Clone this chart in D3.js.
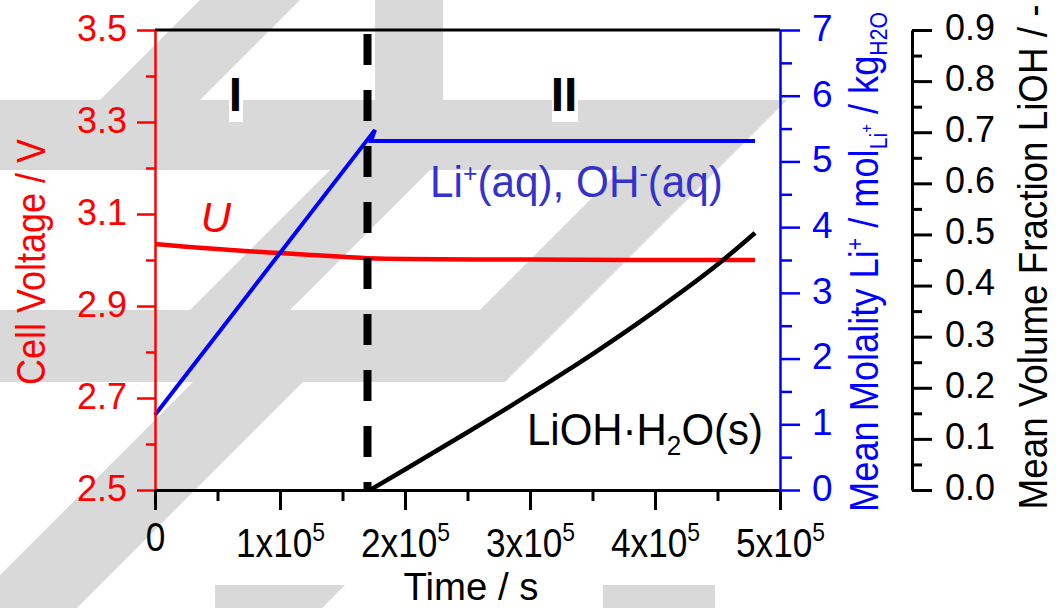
<!DOCTYPE html>
<html>
<head>
<meta charset="utf-8">
<script src="https://cdn.jsdelivr.net/npm/d3@7"></script>
<style>
body { margin: 0; background: #fff; }
svg text { font-family: "Liberation Sans", Arial, sans-serif; }
</style>
</head>
<body>
<svg id="chart" width="1056" height="608"></svg>
<script>
// ---- data ----
var timeTicks      = [0, 1e5, 2e5, 3e5, 4e5, 5e5]
var timeMinor      = [0.5e5, 1.5e5, 2.5e5, 3.5e5, 4.5e5]
var voltageTicks   = [2.5, 2.7, 2.9, 3.1, 3.3, 3.5]
var voltageMinor   = [2.6, 2.8, 3.0, 3.2, 3.4]
var molalityTicks  = [0, 1, 2, 3, 4, 5, 6, 7]
var molalityMinor  = [0.5, 1.5, 2.5, 3.5, 4.5, 5.5, 6.5]
var fractionTicks  = [0, 0.1, 0.2, 0.3, 0.4, 0.5, 0.6, 0.7, 0.8, 0.9]
var fractionMinor  = [0.05, 0.15, 0.25, 0.35, 0.45, 0.55, 0.65, 0.75, 0.85]

// cell voltage U
var voltageTime = [0, 0.25e5, 0.5e5, 0.75e5, 1e5, 1.25e5, 1.5e5, 1.7e5, 2e5, 3e5, 4e5, 4.8e5]
var voltage     = [3.035, 3.029, 3.024, 3.019, 3.015, 3.011, 3.007, 3.004, 3.002, 3.001, 3.000, 3.000]

// mean molality Li+
var molalityTime = [0, 1.76e5, 1.728e5, 4.8e5]
var molality     = [1.14, 5.48, 5.31, 5.31]

// mean volume fraction LiOH.H2O(s)
var lihTime     = [1.72e5, 2.0e5, 2.5e5, 3.0e5, 3.5e5, 4.0e5, 4.5e5, 4.8e5]
var lihFraction = [0, 0.040, 0.113, 0.188, 0.266, 0.350, 0.441, 0.503]

var transitionTime = 1.7e5

// ---- layout ----
var plotLeft = 155, plotRight = 780, plotTop = 30, plotBottom = 490
var fracAxisX = 912
var gray = "#d9d9d9"
var blue = "#0000ff"

var svg = d3.select("#chart")

var x  = d3.scaleLinear().domain([0, 5e5]).range([plotLeft, plotRight])
var yV = d3.scaleLinear().domain([2.5, 3.5]).range([plotBottom, plotTop])
var yM = d3.scaleLinear().domain([0, 7]).range([plotBottom, plotTop])
var yF = d3.scaleLinear().domain([0, 0.9]).range([plotBottom, plotTop])

// background watermark
var watermark = [
    [[200,0],[300,0],[200,100],[100,100]],
    [[375,0],[443,0],[443,100],[375,100]],
    [[0,100],[787,100],[505,382],[0,382],[0,310],[480,310],[620,170],[0,170]],
    [[330,170],[430,170],[290,310],[190,310]],
    [[193,382],[303,382],[77,608],[-33,608]],
    [[215,585],[345,585],[322,608],[215,608]],
    [[603,585],[715,585],[715,608],[603,608]]
]
svg.append("g").selectAll("polygon")
    .data(watermark)
    .enter()
        .append("polygon")
        .attr("points", function(d){return d.map(function(p){return p.join(",")}).join(" ")})
        .attr("fill", gray)

// white boxes behind region labels
svg.append("rect").attr("x", 229).attr("y", 70).attr("width", 14).attr("height", 52).attr("fill", "#fff")
svg.append("rect").attr("x", 552).attr("y", 73).attr("width", 26).attr("height", 49).attr("fill", "#fff")

function fitWidth(sel, w)
{
    var len = sel.node().getComputedTextLength()
    var t = sel.attr("transform") || ""
    sel.attr("transform", t + " scale(" + (w / len) + ",1)")
}

// ---- series ----
svg.append("path")
    .attr("d", d3.line()
        .x(function(d, i){return x(voltageTime[i])})
        .y(function(d, i){return yV(voltage[i])})
        .curve(d3.curveMonotoneX)(voltageTime))
    .attr("fill", "none").attr("stroke", "#ff0000").attr("stroke-width", 4.5)

svg.append("path")
    .attr("d", d3.line()
        .x(function(d, i){return x(molalityTime[i])})
        .y(function(d, i){return yM(molality[i])})(molalityTime))
    .attr("fill", "none").attr("stroke", blue).attr("stroke-width", 4)
    .attr("stroke-linejoin", "miter")

svg.append("path")
    .attr("d", d3.line()
        .x(function(d, i){return x(lihTime[i])})
        .y(function(d, i){return yF(lihFraction[i])})
        .curve(d3.curveMonotoneX)(lihTime))
    .attr("fill", "none").attr("stroke", "#000").attr("stroke-width", 4.5)

// transition line
svg.append("line")
    .attr("x1", x(transitionTime)).attr("x2", x(transitionTime))
    .attr("y1", plotTop + 4).attr("y2", plotBottom)
    .attr("stroke", "#000").attr("stroke-width", 8)
    .attr("stroke-dasharray", "31,25")

// ---- axes ----
function styleAxis(g, color, width, size)
{
    g.attr("font-family", null).attr("font-size", size)
    g.select(".domain").attr("stroke", color).attr("stroke-width", width)
    g.selectAll(".tick line").attr("stroke", color).attr("stroke-width", width)
    g.selectAll(".tick text").attr("fill", color)
}

// top border
svg.append("line").attr("x1", plotLeft).attr("x2", plotRight).attr("y1", plotTop).attr("y2", plotTop)
    .attr("stroke", "#000").attr("stroke-width", 3)

// left voltage axis
var gV = svg.append("g").attr("transform", "translate(" + plotLeft + ",0)")
    .call(d3.axisLeft(yV).tickValues(voltageTicks).tickSize(18).tickSizeOuter(0).tickPadding(10)
        .tickFormat(d3.format(".1f")))
styleAxis(gV, "#ff0000", 2.5, 36)
gV.selectAll(".tick text").attr("dy", "0.28em")
var gVm = svg.append("g").attr("transform", "translate(" + plotLeft + ",0)")
    .call(d3.axisLeft(yV).tickValues(voltageMinor).tickSize(9).tickFormat(""))
styleAxis(gVm, "#ff0000", 2.5, 36)
gVm.select(".domain").remove()

// bottom time axis
var gT = svg.append("g").attr("transform", "translate(0," + plotBottom + ")")
    .call(d3.axisBottom(x).tickValues(timeTicks).tickSize(20).tickSizeOuter(0).tickFormat(""))
styleAxis(gT, "#000", 3, 40)
gT.selectAll(".tick text").remove()
gT.selectAll(".tick").each(function(d)
{
    var t = d3.select(this).append("text")
        .attr("fill", "#000").attr("text-anchor", "middle")
        .attr("transform", "scale(0.88,1)")
    if(d === 0)
    {
        t.attr("y", 61).text("0")
    }
    else
    {
        t.attr("y", 67)
        t.append("tspan").text(d3.format("d")(d / 1e5) + "x10")
        t.append("tspan").attr("font-size", 26).attr("dy", -16).text("5")
    }
})
var gTm = svg.append("g").attr("transform", "translate(0," + plotBottom + ")")
    .call(d3.axisBottom(x).tickValues(timeMinor).tickSize(11).tickFormat(""))
styleAxis(gTm, "#000", 3, 40)
gTm.select(".domain").remove()

// right molality axis
var gM = svg.append("g").attr("transform", "translate(" + plotRight + ",0)")
    .call(d3.axisRight(yM).tickValues(molalityTicks).tickSize(20).tickSizeOuter(0).tickPadding(12)
        .tickFormat(d3.format("d")))
styleAxis(gM, blue, 2.5, 37)
gM.selectAll(".tick text").attr("dy", "0.28em")
var gMm = svg.append("g").attr("transform", "translate(" + plotRight + ",0)")
    .call(d3.axisRight(yM).tickValues(molalityMinor).tickSize(12).tickFormat(""))
styleAxis(gMm, blue, 2.5, 37)
gMm.select(".domain").remove()

// far right fraction axis
var gF = svg.append("g").attr("transform", "translate(" + fracAxisX + ",0)")
    .call(d3.axisRight(yF).tickValues(fractionTicks).tickSize(20).tickSizeOuter(0).tickPadding(13)
        .tickFormat(d3.format(".1f")))
styleAxis(gF, "#000", 3, 36)
gF.selectAll(".tick text").attr("dy", "0.26em")
var gFm = svg.append("g").attr("transform", "translate(" + fracAxisX + ",0)")
    .call(d3.axisRight(yF).tickValues(fractionMinor).tickSize(10).tickFormat(""))
styleAxis(gFm, "#000", 3, 36)
gFm.select(".domain").remove()

// ---- axis titles ----
var tV = svg.append("text")
    .attr("transform", "translate(45,262) rotate(-90)")
    .attr("text-anchor", "middle").attr("font-size", 41).attr("fill", "#ff0000")
    .text("Cell Voltage / V")
fitWidth(tV, 246)

var tM = svg.append("text")
    .attr("transform", "translate(878,262) rotate(-90)")
    .attr("text-anchor", "middle").attr("font-size", 41).attr("fill", blue)
tM.append("tspan").text("Mean Molality Li")
tM.append("tspan").attr("font-size", 24).attr("dy", -15).text("+")
tM.append("tspan").attr("dy", 15).text(" / mol")
tM.append("tspan").attr("font-size", 24).attr("dy", 9).text("Li")
tM.append("tspan").attr("font-size", 17).attr("dy", -15).text("+")
tM.append("tspan").attr("dy", 6).text(" / kg")
tM.append("tspan").attr("font-size", 24).attr("dy", 9).text("H2O")
fitWidth(tM, 500)

var tF = svg.append("text")
    .attr("transform", "translate(1047,257) rotate(-90)")
    .attr("text-anchor", "middle").attr("font-size", 41).attr("fill", "#000")
    .text("Mean Volume Fraction LiOH / -")
fitWidth(tF, 505)

var tT = svg.append("text")
    .attr("transform", "translate(471,600)")
    .attr("text-anchor", "middle").attr("font-size", 39).attr("fill", "#000")
    .text("Time / s")
fitWidth(tT, 135)

// ---- annotations ----
svg.append("text").attr("x", 235.5).attr("y", 111).attr("text-anchor", "middle")
    .attr("font-size", 48).attr("font-weight", "bold").text("I")
svg.append("text").attr("x", 564).attr("y", 111).attr("text-anchor", "middle")
    .attr("font-size", 48).attr("font-weight", "bold").text("II")

svg.append("text").attr("x", 216).attr("y", 232).attr("text-anchor", "middle")
    .attr("font-size", 42).attr("font-style", "italic").attr("fill", "#ff0000").text("U")

var tAq = svg.append("text").attr("transform", "translate(430,197)")
    .attr("font-size", 44).attr("fill", "#3333cc")
tAq.append("tspan").text("Li")
tAq.append("tspan").attr("font-size", 26).attr("dy", -15).text("+")
tAq.append("tspan").attr("dy", 15).text("(aq), OH")
tAq.append("tspan").attr("font-size", 26).attr("dy", -15).text("-")
tAq.append("tspan").attr("dy", 15).text("(aq)")
fitWidth(tAq, 293)

var tS = svg.append("text").attr("transform", "translate(527,445)")
    .attr("font-size", 45).attr("fill", "#000")
tS.append("tspan").text("LiOH\u00b7H")
tS.append("tspan").attr("font-size", 28).attr("dy", 10).text("2")
tS.append("tspan").attr("dy", -10).text("O(s)")
fitWidth(tS, 236)
</script>
</body>
</html>
